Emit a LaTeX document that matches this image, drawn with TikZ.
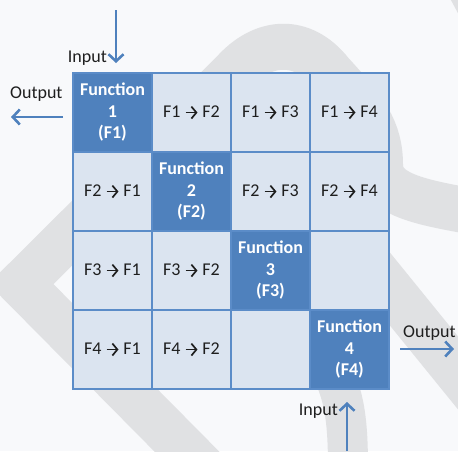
\documentclass[tikz,border=0pt]{standalone}
\usepackage{fontspec}
\setmainfont{Carlito}
\usetikzlibrary{positioning,arrows.meta}
\definecolor{fnblue}{HTML}{4F81BD}
\definecolor{cellblue}{HTML}{DBE4F0}
\definecolor{gridline}{HTML}{5B8CC8}
\definecolor{pagebg}{HTML}{F8F9FB}
\definecolor{markgray}{HTML}{E0E1E3}
\definecolor{txtgray}{HTML}{1E1E1E}
\newcommand{\fto}[2]{F#1 \tikz[baseline=-4.7pt]\draw[draw=txtgray,line width=1.7pt,-{Straight Barb[length=5pt,width=12pt]}] (0pt,0pt) -- (12pt,0pt); F#2}

\begin{document}
\begin{tikzpicture}[x=1pt,y=-1pt,
        cell/.style={rectangle,draw=gridline,line width=1.3pt,minimum size=79pt,outer sep=0pt,inner sep=0pt,text=txtgray,font=\fontsize{18}{21.5}\selectfont},
        fn/.style={cell,fill=fnblue,text=white,font=\fontsize{18}{21.5}\selectfont\bfseries,align=center},
        link/.style={cell,fill=cellblue},
        lbl/.style={inner sep=0pt,text=txtgray,font=\fontsize{18}{21.5}\selectfont},
        flow/.style={draw=fnblue,line width=2.6pt,-{Straight Barb[length=7pt,width=15pt]}},
        wmark/.style={draw=markgray,line width=46pt}]
        \useasboundingbox (0,0) rectangle (458,451);
        \fill[pagebg] (0,0) rectangle (458,451);
        \begin{scope}
            \clip (0,0) rectangle (458,451);
            \draw[wmark] (215,480) -- (21,284) -- (233,73) .. controls (262,40) and (302,36) .. (331,73)
                .. controls (365,110) and (380,130) .. (380,165) .. controls (380,195) and (420,202) .. (475,212);
            \draw[wmark,line width=40pt] (336,380) .. controls (346,405) and (348,430) .. (348,470);
            \draw[wmark] (368,262) -- (480,400);
            \draw[wmark,line width=36pt] (458,-25) -- (490,35);
        \end{scope}

        \node[fn] (f1) at (112.5,112.5) {Function\\1\\(F1)};
        \node[link, right=0pt of f1] (f12) {\fto12};
        \node[link, right=0pt of f12] (f13) {\fto13};
        \node[link, right=0pt of f13] (f14) {\fto14};
        \node[link, below=0pt of f1] (f21) {\fto21};
        \node[fn, right=0pt of f21] (f2) {Function\\2\\(F2)};
        \node[link, right=0pt of f2] (f23) {\fto23};
        \node[link, right=0pt of f23] (f24) {\fto24};
        \node[link, below=0pt of f21] (f31) {\fto31};
        \node[link, right=0pt of f31] (f32) {\fto32};
        \node[fn, right=0pt of f32] (f3) {Function\\3\\(F3)};
        \node[link, right=0pt of f3] (f34) {};
        \node[link, below=0pt of f31] (f41) {\fto41};
        \node[link, right=0pt of f41] (f42) {\fto42};
        \node[link, right=0pt of f42] (f43) {};
        \node[fn, right=0pt of f43] (f4) {Function\\4\\(F4)};

        \node[lbl, anchor=base east] (in1) at (107,62) {Input};
        \coordinate (in1top) at (116,10);
        \coordinate (in1tip) at (116,63);
        \draw[flow] (in1top) -- (in1tip);
        \node[lbl, anchor=base west] (out1) at (10,98) {Output};
        \coordinate (out1start) at (63,117);
        \coordinate (out1tip) at (11,117);
        \draw[flow] (out1start) -- (out1tip);
        \node[lbl, anchor=base west] (out4) at (403,337) {Output};
        \coordinate (out4start) at (400,349);
        \coordinate (out4tip) at (454,349);
        \draw[flow] (out4start) -- (out4tip);
        \node[lbl, anchor=base east] (in4) at (338,415) {Input};
        \coordinate (in4bottom) at (347,451);
        \coordinate (in4tip) at (347,402);
        \draw[flow] (in4bottom) -- (in4tip);
\end{tikzpicture}
\end{document}
